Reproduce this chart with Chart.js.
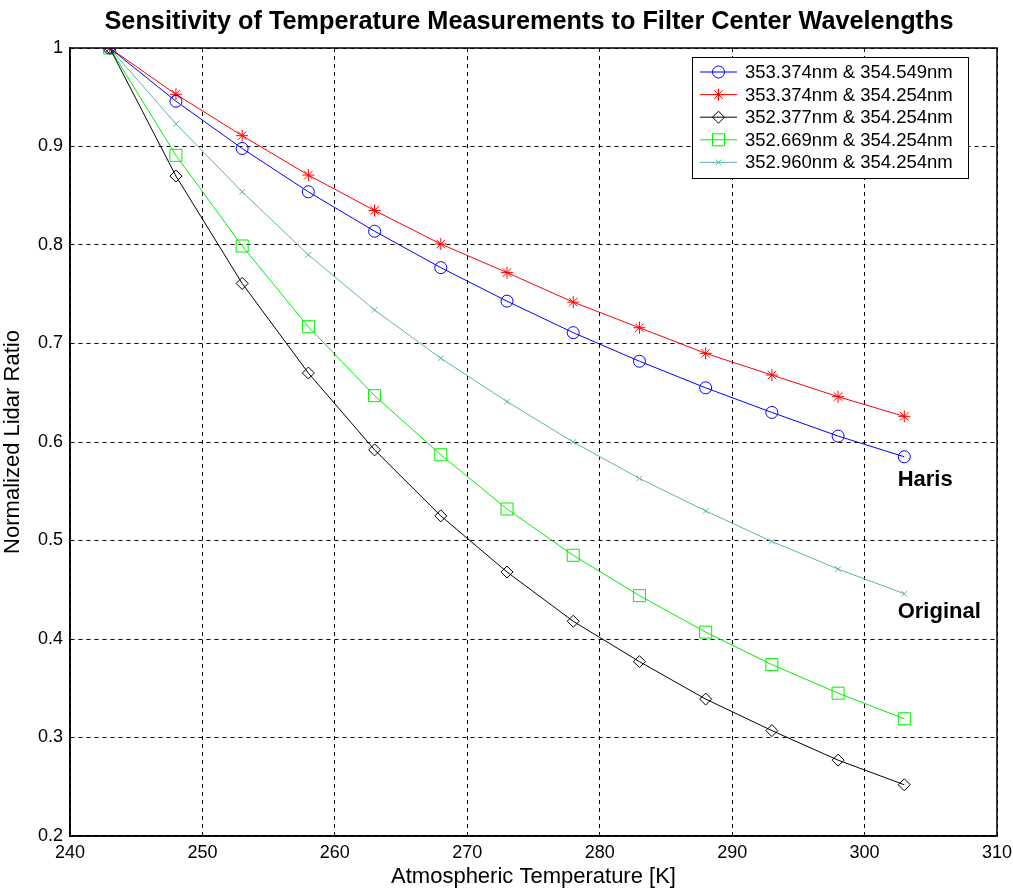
<!DOCTYPE html>
<html>
<head>
<meta charset="utf-8">
<script src="https://cdn.jsdelivr.net/npm/chart.js@4"></script>
<style>
  html, body { margin: 0; padding: 0; background: #fff; }
  #wrap { width: 1013px; height: 890px; }
</style>
</head>
<body>
<div id="wrap"><canvas id="myChart" width="1013" height="890"></canvas></div>
<script>
// temperatures [K]
const temps = [243, 248, 253, 258, 263, 268, 273, 278, 283, 288, 293, 298, 303];

// normalized lidar ratio per filter pair
const haris   = [1, 0.946, 0.898, 0.854, 0.814, 0.777, 0.743, 0.711, 0.682, 0.655, 0.630, 0.606, 0.585];
const pairRed = [1, 0.953, 0.911, 0.871, 0.835, 0.801, 0.772, 0.742, 0.716, 0.690, 0.668, 0.646, 0.626];
const pairBlk = [1, 0.870, 0.761, 0.670, 0.592, 0.525, 0.468, 0.418, 0.377, 0.339, 0.307, 0.277, 0.252];
const pairGrn = [1, 0.891, 0.799, 0.717, 0.647, 0.587, 0.532, 0.485, 0.444, 0.407, 0.374, 0.345, 0.319];
const original = [1, 0.923, 0.854, 0.790, 0.734, 0.685, 0.641, 0.600, 0.563, 0.530, 0.499, 0.471, 0.446];

const labels = [
  "353.374nm & 354.549nm",
  "353.374nm & 354.254nm",
  "352.377nm & 354.254nm",
  "352.669nm & 354.254nm",
  "352.960nm & 354.254nm"
];

// x ticks 240..310, y ticks 0.2..1
const xTicks = [240, 250, 260, 270, 280, 290, 300, 310];
const yTicks = [0.2, 0.3, 0.4, 0.5, 0.6, 0.7, 0.8, 0.9, 1];

const title = "Sensitivity of Temperature Measurements to Filter Center Wavelengths";

// text notes next to curve ends
const notes = [
  { text: "Haris", x: 302.5, y: 0.561 },
  { text: "Original", x: 302.5, y: 0.427 }
];

const FONT = "'Liberation Sans', Arial, sans-serif";

function mk(vals, i, color, style, r) {
  return {
    label: labels[i],
    data: vals.map((v, k) => ({ x: temps[k], y: v })),
    borderColor: color,
    backgroundColor: "transparent",
    borderWidth: 1,
    pointStyle: style,
    pointRadius: r,
    pointBorderColor: color,
    pointBackgroundColor: "transparent",
    pointBorderWidth: 1,
    tension: 0
  };
}

const datasets = [
  mk(haris, 0, "#0000ff", "circle", 6),
  mk(pairRed, 1, "#ff0000", "star", 6),
  mk(pairBlk, 2, "#000000", "rectRot", 6),
  mk(pairGrn, 3, "#00f000", "rect", 8.5),
  mk(original, 4, "#5fb2b2", "crossRot", 4)
];

// box round the plot, title, legend and notes
const extras = {
  id: "extras",
  afterDraw(chart) {
    const ctx = chart.ctx;
    const a = chart.chartArea;
    ctx.save();
    ctx.strokeStyle = "#000";
    ctx.lineWidth = 1.5;
    ctx.strokeRect(a.left, a.top, a.right - a.left, a.bottom - a.top);

    ctx.fillStyle = "#000";
    ctx.textBaseline = "middle";
    ctx.textAlign = "center";
    ctx.font = "bold 25.3px " + FONT;
    ctx.fillText(title, 529, 22);

    // notes
    ctx.font = "bold 22px " + FONT;
    ctx.textAlign = "left";
    const xs = chart.scales.x, ys = chart.scales.y;
    notes.forEach(n => ctx.fillText(n.text, xs.getPixelForValue(n.x), ys.getPixelForValue(n.y)));

    // legend
    const lx = 692, ly = 57, lw = 276, lh = 121;
    ctx.fillStyle = "#fff";
    ctx.fillRect(lx, ly, lw, lh);
    ctx.lineWidth = 1;
    ctx.strokeRect(lx + 0.5, ly + 0.5, lw, lh);
    ctx.font = "18.5px " + FONT;
    chart.data.datasets.forEach((ds, i) => {
      const y = ly + 15 + i * 22.6;
      ctx.strokeStyle = ds.borderColor;
      ctx.lineWidth = 1;
      ctx.beginPath();
      ctx.moveTo(lx + 8, y);
      ctx.lineTo(lx + 45, y);
      ctx.stroke();
      ctx.fillStyle = "rgba(0,0,0,0)";
      Chart.helpers.drawPoint(ctx, {
        pointStyle: ds.pointStyle, radius: ds.pointRadius, borderWidth: 1
      }, lx + 26.5, y);
      ctx.fillStyle = "#000";
      ctx.fillText(ds.label, lx + 53, y + 1);
    });
    ctx.restore();
  }
};

const ctx = document.getElementById("myChart").getContext("2d");
const chart = new Chart(ctx, {
  type: "line",
  data: { datasets: datasets },
  options: {
    responsive: false,
    animation: false,
    layout: { padding: { top: 48, right: 16, left: 0, bottom: 0 } },
    plugins: {
      legend: { display: false },
      tooltip: { enabled: false },
      title: { display: false }
    },
    scales: {
      x: {
        type: "linear",
        min: 240, max: 310,
        afterBuildTicks: s => { s.ticks = xTicks.map(v => ({ value: v })); },
        afterFit: s => { s.height = 54; s.paddingLeft = 0; s.paddingRight = 0; },
        ticks: { color: "#000", font: { family: FONT, size: 18 }, padding: 6, maxRotation: 0 },
        grid: { color: "#000", lineWidth: 1, drawTicks: false },
        border: { display: true, color: "#000", width: 1.5, dash: [4, 4] },
        title: {
          display: true, text: "Atmospheric Temperature [K]", color: "#000",
          font: { family: FONT, size: 22 }, padding: { top: 0, bottom: 0 }
        }
      },
      y: {
        min: 0.2, max: 1,
        afterBuildTicks: s => { s.ticks = yTicks.map(v => ({ value: v })); },
        afterFit: s => { s.width = 70; s.paddingTop = 0; s.paddingBottom = 0; },
        ticks: {
          color: "#000", font: { family: FONT, size: 18 }, padding: 7,
          callback: v => String(Math.round(v * 10) / 10)
        },
        grid: { color: "#000", lineWidth: 1, drawTicks: false },
        border: { display: true, color: "#000", width: 1.5, dash: [4, 4] },
        title: {
          display: true, text: "Normalized Lidar Ratio", color: "#000",
          font: { family: FONT, size: 22 }, padding: { top: 0, bottom: 6 }
        }
      }
    }
  },
  plugins: [extras]
});
</script>
</body>
</html>
